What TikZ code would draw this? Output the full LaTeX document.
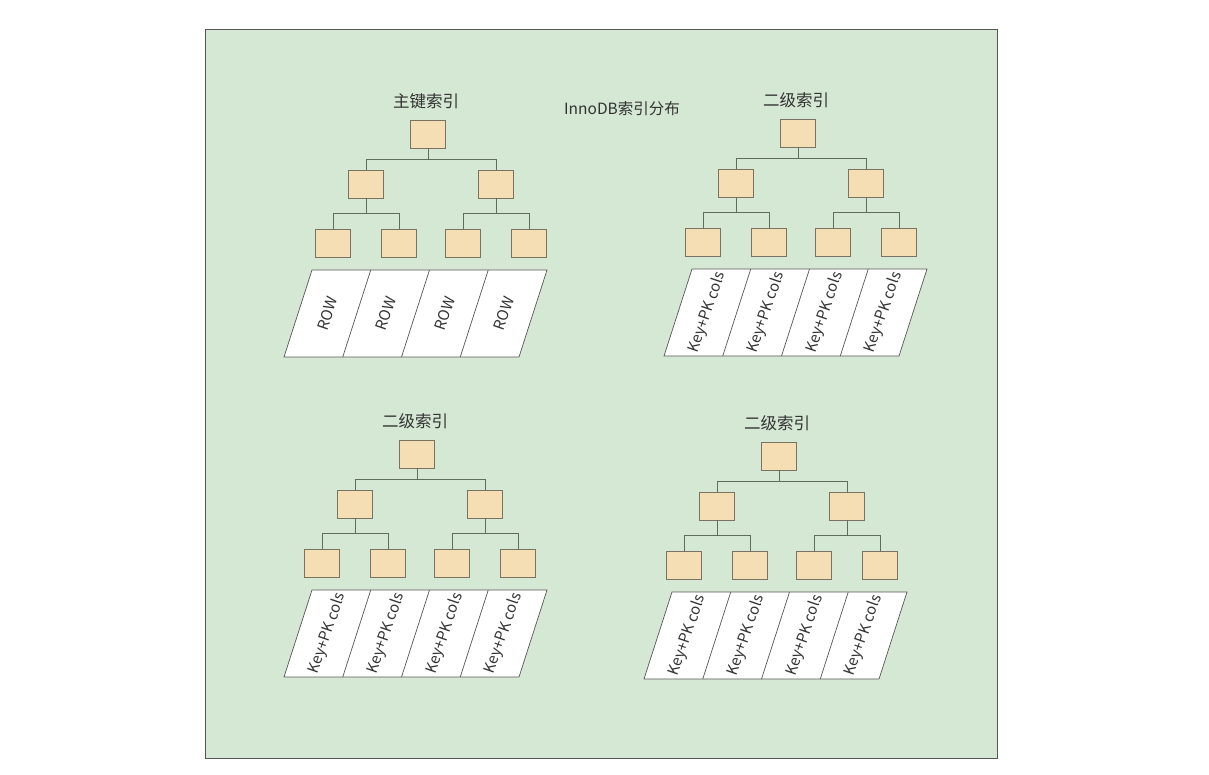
\documentclass[tikz,border=0pt]{standalone}
\usepackage{fontspec}
\setmainfont{Noto Sans CJK SC}
\usetikzlibrary{calc}
\usepackage{xcolor}
\definecolor{bggreen}{HTML}{D5E8D4}
\definecolor{bgframe}{HTML}{555555}
\definecolor{boxfill}{HTML}{F5DEB3}
\definecolor{boxline}{HTML}{7A7262}
\definecolor{treeline}{HTML}{5E6E5B}
\definecolor{txt}{HTML}{333333}
\tikzset{
  pagebox/.style={draw=boxline, fill=boxfill, minimum width=35pt, minimum height=28pt, inner sep=0pt, line width=0.8pt},
  link/.style={draw=treeline, line width=0.9pt},
  rowcell/.style={draw=bgframe, fill=white, line width=0.7pt},
  celltext/.style={rotate=71, text=txt, inner sep=0pt, font=\fontsize{15}{16}\selectfont},
  title/.style={text=txt, font=\fontsize{16.5}{18}\selectfont}
}

\begin{document}
\begin{tikzpicture}[x=1pt,y=-1pt]
\useasboundingbox (0,0) rectangle (1209,775);
\fill[white] (0,0) rectangle (1209,775);
\draw[bgframe, fill=bggreen, line width=1pt] (205,30) rectangle (997,758);
\node[title, font=\fontsize{15.5}{18}\selectfont] (head) at (622,109) {InnoDB索引分布};
\foreach \i/\x/\y/\px/\ttl/\lbl in {1/428/134/312/主键索引/ROW,
  2/798/133/692/二级索引/Key+PK cols,
  3/417/454/312/二级索引/Key+PK cols,
  4/779/456/672/二级索引/Key+PK cols}
{	\node[title] (t\i) at (\x-2,\y-33) {\ttl};
	\node[pagebox] (r\i) at (\x,\y) {};
	\node[pagebox] (ma\i) at (\x-62,\y+50) {};
	\node[pagebox] (mb\i) at (\x+68,\y+50) {};
	\node[pagebox] (la\i) at (\x-95,\y+109) {};
	\node[pagebox] (lb\i) at (\x-29,\y+109) {};
	\node[pagebox] (lc\i) at (\x+35,\y+109) {};
	\node[pagebox] (ld\i) at (\x+101,\y+109) {};
	\draw[link] (r\i.south) -- ++(0,11) -| (ma\i.north);
	\draw[link] (r\i.south) -- ++(0,11) -| (mb\i.north);
	\draw[link] (ma\i.south) -- ++(0,15) -| (la\i.north);
	\draw[link] (ma\i.south) -- ++(0,15) -| (lb\i.north);
	\draw[link] (mb\i.south) -- ++(0,15) -| (lc\i.north);
	\draw[link] (mb\i.south) -- ++(0,15) -| (ld\i.north);
	% rows under the leaves
	\coordinate (pa\i) at (\px,\y+136);
	\coordinate (pb\i) at (\px+235,\y+136);
	\coordinate (pc\i) at (\px+207,\y+223);
	\coordinate (pd\i) at (\px-28,\y+223);
	\draw[rowcell] (pa\i) -- (pb\i) -- (pc\i) -- (pd\i) -- cycle;
	\foreach \k in {1,2,3}
	{	\draw[rowcell] ($(pa\i)!\k/4!(pb\i)$) -- ($(pd\i)!\k/4!(pc\i)$);
	}
	\foreach \k in {1,...,4}
	{	\node[celltext] (c\i\k) at (\px+58.75*\k-29.4-14,\y+179.5) {\lbl};
	}
}
\end{tikzpicture}
\end{document}
